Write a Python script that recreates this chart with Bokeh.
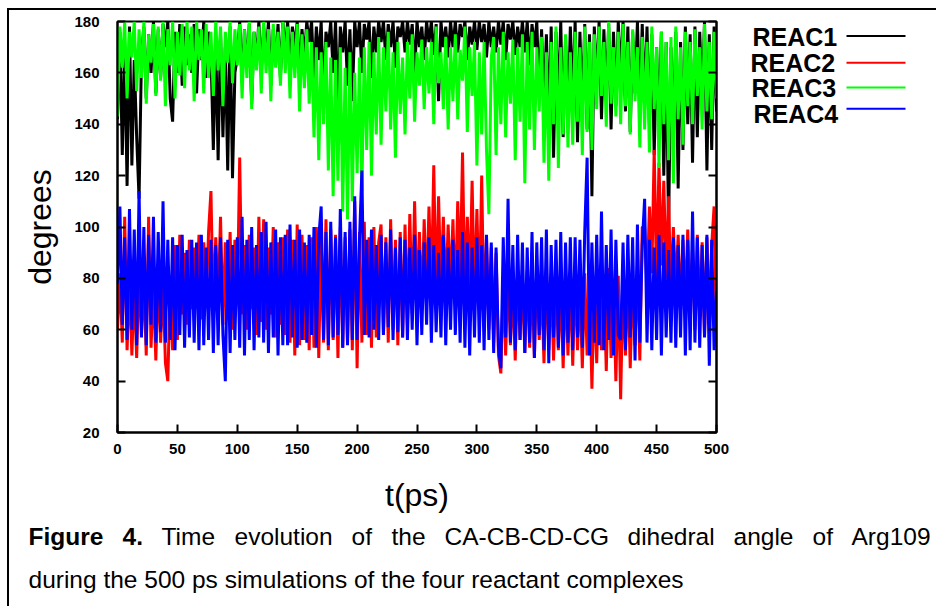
import numpy as np
from bokeh.plotting import figure
from bokeh.layouts import row, column
from bokeh.models import (Range1d, LinearAxis, Label, Spacer, FixedTicker,
                          ColumnDataSource, CustomJSTickFormatter)
from bokeh.embed import file_html
from bokeh.resources import INLINE

# ---- data: dihedral angle (degrees) sampled every 2 ps over 0-500 ps ----
t_ps = np.arange(251) * 2.0

reac1 = [
    142, 176, 128, 170, 116, 178, 124, 165, 135, 111,
    166, 178, 150, 175, 160, 180, 152, 177, 158, 179,
    170, 180, 150, 141, 176, 160, 179, 155, 178, 163,
    175, 160, 179, 152, 177, 165, 180, 158, 176, 168,
    130, 172, 126, 176, 135, 170, 122, 178, 119, 160,
    166, 180, 156, 177, 162, 179, 148, 176, 165, 180,
    160, 178, 166, 180, 155, 177, 163, 179, 158, 180,
    168, 180, 162, 178, 170, 180, 160, 177, 166, 180,
    172, 180, 158, 178, 165, 180, 150, 176, 170, 180,
    160, 180, 146, 178, 168, 180, 155, 177, 149, 180,
    170, 180, 160, 179, 173, 180, 158, 178, 168, 180,
    172, 180, 165, 179, 170, 180, 162, 178, 174, 180,
    168, 180, 171, 179, 160, 180, 170, 178, 165, 180,
    172, 180, 167, 179, 149, 180, 170, 178, 166, 180,
    170, 180, 168, 179, 174, 180, 165, 178, 171, 180,
    169, 180, 172, 179, 166, 180, 170, 178, 168, 180,
    171, 180, 165, 179, 173, 180, 167, 178, 170, 180,
    168, 180, 163, 179, 170, 180, 152, 177, 145, 175,
    140, 178, 127, 176, 148, 180, 135, 174, 142, 178,
    150, 180, 133, 176, 145, 179, 138, 175, 112, 178,
    155, 180, 142, 177, 150, 179, 138, 176, 147, 180,
    158, 180, 145, 178, 137, 176, 152, 180, 143, 179,
    148, 178, 140, 175, 128, 170, 138, 176, 120, 172,
    99, 170, 135, 176, 115, 172, 130, 178, 140, 175,
    125, 178, 135, 176, 150, 180, 122, 175, 130, 178,
    145,
]

reac2 = [
    60, 82, 55, 104, 52, 80, 50, 78, 49, 84,
    58, 80, 50, 104, 53, 78, 48, 82, 55, 79,
    47, 40, 78, 52, 93, 56, 97, 66, 90, 62,
    95, 68, 92, 70, 97, 64, 94, 70, 98, 114,
    66, 96, 70, 104, 62, 94, 68, 98, 60, 95,
    70, 127, 66, 93, 60, 97, 68, 92, 58, 104,
    63, 103, 60, 92, 66, 100, 57, 94, 62, 96,
    58, 99, 55, 95, 50, 101, 54, 97, 56, 93,
    52, 96, 53, 100, 49, 97, 55, 103, 52, 99,
    56, 97, 49, 100, 53, 96, 55, 99, 52, 110,
    45, 98, 55, 102, 58, 96, 53, 100, 57, 94,
    101, 58, 96, 55, 103, 60, 95, 54, 98, 57,
    101, 62, 105, 66, 110, 70, 98, 68, 103, 72,
    108, 74, 124, 70, 112, 76, 104, 72, 101, 75,
    103, 70, 110, 78, 129, 72, 104, 75, 118, 70,
    107, 68, 120, 62, 96, 60, 92, 55, 90, 50,
    43, 80, 50, 84, 54, 78, 48, 82, 56, 80,
    51, 83, 53, 80, 49, 85, 56, 78, 47, 84,
    52, 80, 48, 83, 52, 78, 45, 82, 50, 80,
    46, 83, 52, 78, 45, 82, 50, 80, 37, 77,
    47, 82, 52, 80, 44, 84, 49, 78, 40, 81,
    33, 80, 50, 83, 45, 80, 54, 85, 48, 100,
    100, 75, 108, 82, 130, 78, 125, 85, 118, 80,
    112, 72, 100, 75, 97, 68, 95, 70, 99, 66,
    92, 60, 97, 64, 94, 58, 96, 62, 93, 108,
    55,
]

reac3 = [
    143, 178, 162, 180, 150, 176, 166, 180, 153, 177,
    158, 180, 148, 175, 164, 179, 151, 178, 157, 180,
    147, 177, 163, 180, 150, 176, 159, 179, 154, 180,
    161, 178, 149, 180, 165, 177, 152, 179, 158, 176,
    151, 180, 161, 178, 147, 176, 164, 180, 156, 177,
    163, 179, 150, 177, 158, 180, 146, 176, 161, 178,
    152, 180, 160, 177, 149, 179, 162, 176, 155, 180,
    160, 178, 150, 176, 158, 179, 145, 175, 154, 177,
    148, 172, 135, 170, 126, 168, 140, 172, 122, 166,
    112, 165, 118, 170, 106, 162, 103, 168, 110, 160,
    121, 166, 114, 170, 130, 172, 120, 168, 136, 174,
    132, 170, 145, 176, 138, 168, 127, 172, 144, 166,
    136, 172, 150, 175, 141, 168, 155, 173, 146, 170,
    152, 172, 140, 178, 156, 168, 146, 174, 138, 170,
    149, 175, 142, 169, 157, 178, 137, 170, 151, 172,
    124, 168, 136, 172, 130, 105, 166, 174, 128, 170,
    140, 176, 135, 168, 148, 173, 126, 170, 141, 175,
    117, 172, 138, 176, 130, 170, 145, 174, 125, 168,
    118, 172, 140, 178, 123, 170, 136, 175, 131, 168,
    132, 176, 141, 170, 128, 178, 137, 172, 130, 175,
    146, 178, 151, 172, 139, 180, 148, 170, 143, 176,
    140, 179, 147, 172, 136, 177, 149, 170, 131, 174,
    138, 172, 129, 178, 146, 170, 123, 176, 140, 172,
    126, 174, 117, 178, 142, 170, 132, 176, 147, 172,
    140, 177, 151, 170, 138, 179, 145, 172, 142, 176,
    150,
]

reac4 = [
    78, 108, 62, 96, 56, 107, 60, 99, 54, 114,
    57, 100, 54, 97, 62, 104, 55, 98, 59, 110,
    55, 95, 56, 96, 52, 93, 58, 97, 53, 91,
    57, 95, 55, 94, 52, 97, 54, 92, 56, 95,
    51, 93, 54, 96, 58, 40, 95, 51, 93, 56,
    96, 53, 104, 50, 95, 56, 100, 52, 93, 57,
    98, 55, 102, 51, 94, 57, 99, 50, 96, 54,
    97, 54, 101, 57, 95, 53, 99, 56, 94, 55,
    97, 58, 100, 53, 96, 108, 56, 98, 54, 102,
    57, 96, 58, 107, 53, 98, 54, 102, 56, 112,
    56, 95, 122, 58, 95, 57, 99, 60, 93, 56,
    97, 58, 94, 61, 99, 56, 92, 59, 96, 57,
    95, 56, 92, 60, 97, 54, 91, 58, 94, 62,
    96, 55, 93, 59, 90, 57, 97, 54, 92, 60,
    95, 58, 91, 55, 98, 53, 94, 50, 92, 57,
    96, 55, 93, 52, 97, 56, 94, 51, 92, 53,
    45, 96, 57, 111, 55, 93, 52, 97, 56, 94,
    51, 92, 55, 98, 49, 94, 58, 96, 52, 99,
    47, 93, 57, 95, 53, 98, 50, 94, 55, 96,
    52, 96, 57, 95, 53, 98, 127, 50, 94, 55,
    97, 54, 106, 52, 93, 56, 99, 50, 95, 58,
    56, 94, 52, 97, 57, 96, 48, 101, 55, 93,
    111, 55, 95, 52, 92, 56, 97, 50, 94, 57,
    91, 55, 96, 53, 93, 57, 97, 50, 95, 52,
    106, 55, 96, 53, 93, 57, 97, 46, 95, 52,
    75,
]

series_names = ["REAC1", "REAC2", "REAC3", "REAC4"]
series_colors = ["#000000", "#ff0000", "#00ff00", "#0000ff"]
x_ticks = [0, 50, 100, 150, 200, 250, 300, 350, 400, 450, 500]
y_ticks = [20, 40, 60, 80, 100, 120, 140, 160, 180]

FONT = "Liberation Sans"

# ---- page geometry (pixels) ----
PAGE_W, PAGE_H = 936, 606
BOX_X, BOX_Y, BOX_LW = 7, 8, 2          # outer figure box (left/top edges)
OX, OY = BOX_X + BOX_LW, BOX_Y + BOX_LW  # origin of the content inside the box
CONTENT_W, CONTENT_H = PAGE_W - OX, PAGE_H - OY

MAIN_W, MAIN_H = 731, 505               # chart panel
FL, FR, FT, FB = 108, 707, 11, 422      # plot frame inside the chart panel


def plain_panel(w, h):
    """A figure whose frame covers the whole panel, in top-down pixel units."""
    f = figure(width=w, height=h, output_backend="svg", toolbar_location=None,
               x_range=Range1d(0, w), y_range=Range1d(h, 0),
               x_axis_type=None, y_axis_type=None,
               min_border=0, min_border_left=0, min_border_right=0,
               min_border_top=0, min_border_bottom=0)
    f.outline_line_color = None
    f.grid.visible = False
    f.background_fill_color = "white"
    f.border_fill_color = "white"
    return f


# ---- chart ----
p = figure(width=MAIN_W, height=MAIN_H, output_backend="svg", toolbar_location=None,
           x_range=Range1d(0, 500), y_range=Range1d(20, 180),
           min_border_left=FL, min_border_right=MAIN_W - FR,
           min_border_top=FT, min_border_bottom=MAIN_H - FB)
p.background_fill_color = "white"
p.border_fill_color = "white"
p.outline_line_color = "black"
p.outline_line_width = 2
p.grid.visible = False


def style_axis(ax):
    ax.axis_line_width = 2
    ax.axis_line_color = "black"
    ax.major_tick_line_width = 2
    ax.major_tick_line_color = "black"
    ax.major_tick_in = 8
    ax.major_tick_out = 0
    ax.minor_tick_in = 0
    ax.minor_tick_out = 0
    ax.major_label_text_font = FONT
    ax.major_label_text_font_size = "15px"
    ax.major_label_text_font_style = "bold"
    ax.major_label_text_color = "black"
    ax.axis_label_text_font = FONT
    ax.axis_label_text_font_size = "32px"
    ax.axis_label_text_font_style = "normal"
    ax.axis_label_text_color = "black"


xa = p.xaxis[0]
style_axis(xa)
xa.ticker = FixedTicker(ticks=x_ticks)
xa.major_label_standoff = 11
xa.axis_label = "t(ps)"
xa.axis_label_standoff = 20

ya = p.yaxis[0]
style_axis(ya)
ya.ticker = FixedTicker(ticks=y_ticks)
ya.major_label_standoff = 18
ya.axis_label = "degrees"
ya.axis_label_standoff = 13

# mirrored ticks on the right edge, no labels
ra = LinearAxis(ticker=FixedTicker(ticks=y_ticks))
style_axis(ra)
ra.formatter = CustomJSTickFormatter(code="return ''")
ra.major_label_standoff = 0
p.add_layout(ra, "right")

for name, color, vals in zip(series_names, series_colors, [reac1, reac2, reac3, reac4]):
    src = ColumnDataSource(dict(t=t_ps, deg=vals))
    p.line("t", "deg", source=src, line_color=color, line_width=3.0,
           line_join="bevel")

# ---- legend panel: label text on the left, line sample on the right ----
LEG_X = OX + MAIN_W
leg = plain_panel(CONTENT_W - MAIN_W, MAIN_H)
legend_rows = [(752, 28.5, 27.7), (750, 60.5, 60.7), (751, 92, 91), (753, 124, 117.3)]
for name, color, (lx, ly, sy) in zip(series_names, series_colors, legend_rows):
    leg.add_layout(Label(x=lx - LEG_X, y=ly - OY, text=name, text_font=FONT,
                         text_font_size="25px", text_font_style="bold", text_color="black",
                         text_align="left", text_baseline="middle"))
    leg.segment(x0=[846 - LEG_X], y0=[sy - OY], x1=[905 - LEG_X], y1=[sy - OY],
                line_color=color, line_width=2)

# ---- caption panel (first line justified word by word) ----
CAP_Y = OY + MAIN_H
cap = plain_panel(CONTENT_W, CONTENT_H - MAIN_H)
cap_words = ["Figure", "4.", "Time", "evolution", "of", "the", "CA-CB-CD-CG",
             "dihedral", "angle", "of", "Arg109"]
cap_left = [28, 122, 161, 234, 351, 391, 444, 627, 733, 812, 851]
for i, (word, lx) in enumerate(zip(cap_words, cap_left)):
    cap.add_layout(Label(x=lx - OX, y=536 - CAP_Y, text=word, text_font=FONT,
                         text_font_size="24.5px",
                         text_font_style="bold" if i < 2 else "normal",
                         text_color="black", text_align="left", text_baseline="middle"))
cap.add_layout(Label(x=28 - OX, y=579 - CAP_Y,
                     text="during the 500 ps simulations of the four reactant complexes",
                     text_font=FONT, text_font_size="24.5px", text_color="black",
                     text_align="left", text_baseline="middle"))

# ---- outer box lines and page assembly ----
top_line = Spacer(width=CONTENT_W + BOX_LW, height=BOX_LW, styles={"background-color": "black"})
left_line = Spacer(width=BOX_LW, height=CONTENT_H, styles={"background-color": "black"})

content = column(row(p, leg, spacing=0), cap, spacing=0)
boxed = column(top_line, row(left_line, content, spacing=0), spacing=0)
page = column(Spacer(width=PAGE_W, height=BOX_Y),
              row(Spacer(width=BOX_X, height=PAGE_H - BOX_Y), boxed, spacing=0),
              spacing=0)

open("out.html", "w").write(file_html(page, INLINE))
